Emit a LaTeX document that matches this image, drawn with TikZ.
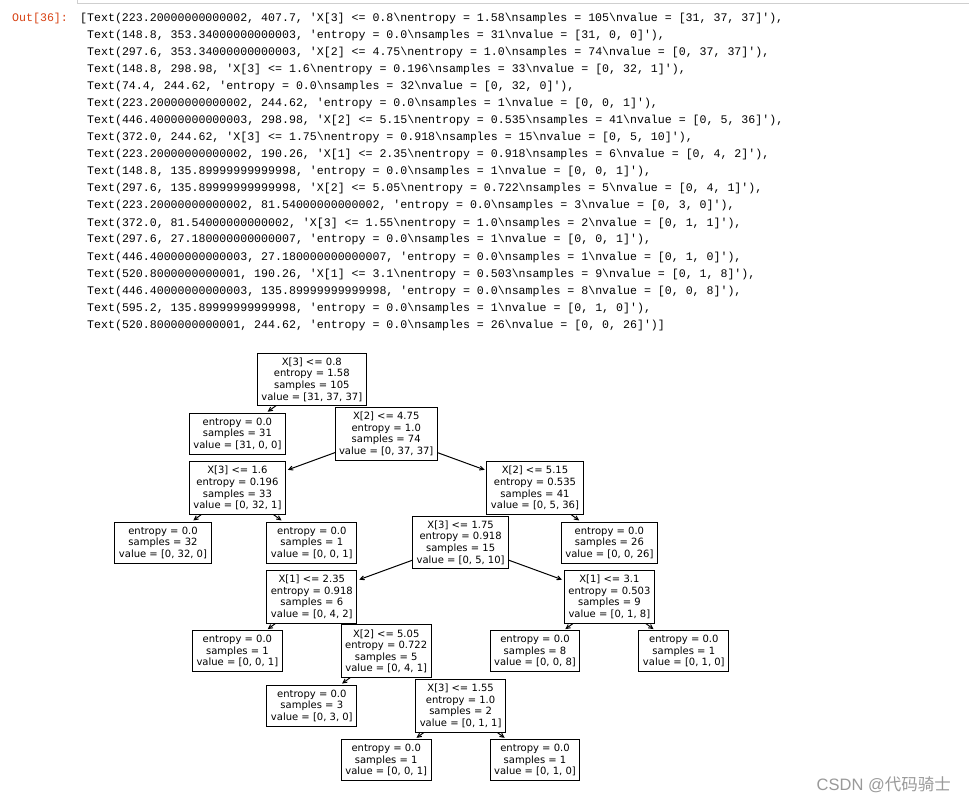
\documentclass[tikz,border=0pt]{standalone}
\usepackage{fontspec}
\usetikzlibrary{arrows.meta}
\newfontfamily\treefont{DejaVu Sans}
\newfontfamily\listfont{Liberation Mono}
\newfontfamily\wmfont{Liberation Sans}
\newfontfamily\wmcjk{Noto Sans CJK SC}
\definecolor{outred}{HTML}{D84315}
\definecolor{cellborder}{HTML}{CFCFCF}
\pgfdeclarelayer{bg}
\pgfsetlayers{bg,main}
\newcommand\bsn{\textbackslash n}
\newcommand\q{\textquotesingle}
\tikzset{
  tree/.style={draw=black, line width=1pt, fill=white, align=center, inner xsep=4pt, inner ysep=4.5pt, font=\treefont\fontsize{10pt}{11.6pt}\selectfont},
  arr/.style={line width=1pt, -{Straight Barb[length=4pt,width=4pt]}, shorten >=2pt},
  lst/.style={anchor=base west, inner sep=0pt, font=\listfont\fontsize{11.6pt}{14pt}\selectfont},
}
\begin{document}
\begin{tikzpicture}[x=1pt,y=-1pt]
\useasboundingbox (0,0) rectangle (969,805);
\begin{pgfonlayer}{bg}
\fill[white] (0,0) rectangle (969,805);
\end{pgfonlayer}
% cell border at top
\draw[cellborder, line width=1pt] (77,0) -- (77,3.5) -- (969,3.5);
% output listing
\node[lst, text=outred] (out) at (12,22) {Out[36]:};
\node[lst] (t1) at (80,22) {[Text(223.20000000000002, 407.7, \q X[3] <= 0.8\bsn entropy = 1.58\bsn samples = 105\bsn value = [31, 37, 37]\q),};
\node[lst] (t2) at (87,39) {Text(148.8, 353.34000000000003, \q entropy = 0.0\bsn samples = 31\bsn value = [31, 0, 0]\q),};
\node[lst] (t3) at (87,56) {Text(297.6, 353.34000000000003, \q X[2] <= 4.75\bsn entropy = 1.0\bsn samples = 74\bsn value = [0, 37, 37]\q),};
\node[lst] (t4) at (87,73) {Text(148.8, 298.98, \q X[3] <= 1.6\bsn entropy = 0.196\bsn samples = 33\bsn value = [0, 32, 1]\q),};
\node[lst] (t5) at (87,90) {Text(74.4, 244.62, \q entropy = 0.0\bsn samples = 32\bsn value = [0, 32, 0]\q),};
\node[lst] (t6) at (87,107) {Text(223.20000000000002, 244.62, \q entropy = 0.0\bsn samples = 1\bsn value = [0, 0, 1]\q),};
\node[lst] (t7) at (87,124) {Text(446.40000000000003, 298.98, \q X[2] <= 5.15\bsn entropy = 0.535\bsn samples = 41\bsn value = [0, 5, 36]\q),};
\node[lst] (t8) at (87,141) {Text(372.0, 244.62, \q X[3] <= 1.75\bsn entropy = 0.918\bsn samples = 15\bsn value = [0, 5, 10]\q),};
\node[lst] (t9) at (87,158) {Text(223.20000000000002, 190.26, \q X[1] <= 2.35\bsn entropy = 0.918\bsn samples = 6\bsn value = [0, 4, 2]\q),};
\node[lst] (t10) at (87,175) {Text(148.8, 135.89999999999998, \q entropy = 0.0\bsn samples = 1\bsn value = [0, 0, 1]\q),};
\node[lst] (t11) at (87,192) {Text(297.6, 135.89999999999998, \q X[2] <= 5.05\bsn entropy = 0.722\bsn samples = 5\bsn value = [0, 4, 1]\q),};
\node[lst] (t12) at (87,209) {Text(223.20000000000002, 81.54000000000002, \q entropy = 0.0\bsn samples = 3\bsn value = [0, 3, 0]\q),};
\node[lst] (t13) at (87,226) {Text(372.0, 81.54000000000002, \q X[3] <= 1.55\bsn entropy = 1.0\bsn samples = 2\bsn value = [0, 1, 1]\q),};
\node[lst] (t14) at (87,243) {Text(297.6, 27.180000000000007, \q entropy = 0.0\bsn samples = 1\bsn value = [0, 0, 1]\q),};
\node[lst] (t15) at (87,260) {Text(446.40000000000003, 27.180000000000007, \q entropy = 0.0\bsn samples = 1\bsn value = [0, 1, 0]\q),};
\node[lst] (t16) at (87,277) {Text(520.8000000000001, 190.26, \q X[1] <= 3.1\bsn entropy = 0.503\bsn samples = 9\bsn value = [0, 1, 8]\q),};
\node[lst] (t17) at (87,294) {Text(446.40000000000003, 135.89999999999998, \q entropy = 0.0\bsn samples = 8\bsn value = [0, 0, 8]\q),};
\node[lst] (t18) at (87,311) {Text(595.2, 135.89999999999998, \q entropy = 0.0\bsn samples = 1\bsn value = [0, 1, 0]\q),};
\node[lst] (t19) at (87,328) {Text(520.8000000000001, 244.62, \q entropy = 0.0\bsn samples = 26\bsn value = [0, 0, 26]\q)]};
% tree nodes, deepest first so parents lie on top
\node[tree] (l001c) at (386.2,760.0) {entropy = 0.0\\samples = 1\\value = [0, 0, 1]};
\node[tree] (l010a) at (535.0,760.0) {entropy = 0.0\\samples = 1\\value = [0, 1, 0]};
\node[tree] (l030) at (311.8,705.7) {entropy = 0.0\\samples = 3\\value = [0, 3, 0]};
\node[tree] (n155) at (460.6,705.7) {X[3] <= 1.55\\entropy = 1.0\\samples = 2\\value = [0, 1, 1]};
\node[tree] (l001b) at (237.4,651.3) {entropy = 0.0\\samples = 1\\value = [0, 0, 1]};
\node[tree] (n505) at (386.2,651.3) {X[2] <= 5.05\\entropy = 0.722\\samples = 5\\value = [0, 4, 1]};
\node[tree] (l008) at (535.0,651.3) {entropy = 0.0\\samples = 8\\value = [0, 0, 8]};
\node[tree] (l010b) at (683.8,651.3) {entropy = 0.0\\samples = 1\\value = [0, 1, 0]};
\node[tree] (n235) at (311.8,596.9) {X[1] <= 2.35\\entropy = 0.918\\samples = 6\\value = [0, 4, 2]};
\node[tree] (n31) at (609.4,596.9) {X[1] <= 3.1\\entropy = 0.503\\samples = 9\\value = [0, 1, 8]};
\node[tree] (l32) at (163.0,542.6) {entropy = 0.0\\samples = 32\\value = [0, 32, 0]};
\node[tree] (l001a) at (311.8,542.6) {entropy = 0.0\\samples = 1\\value = [0, 0, 1]};
\node[tree] (n175) at (460.6,542.6) {X[3] <= 1.75\\entropy = 0.918\\samples = 15\\value = [0, 5, 10]};
\node[tree] (l026) at (609.4,542.6) {entropy = 0.0\\samples = 26\\value = [0, 0, 26]};
\node[tree] (n16) at (237.4,488.2) {X[3] <= 1.6\\entropy = 0.196\\samples = 33\\value = [0, 32, 1]};
\node[tree] (n515) at (535.0,488.2) {X[2] <= 5.15\\entropy = 0.535\\samples = 41\\value = [0, 5, 36]};
\node[tree] (l31) at (237.4,433.9) {entropy = 0.0\\samples = 31\\value = [31, 0, 0]};
\node[tree] (n474) at (386.2,433.9) {X[2] <= 4.75\\entropy = 1.0\\samples = 74\\value = [0, 37, 37]};
\node[tree] (root) at (311.8,379.5) {X[3] <= 0.8\\entropy = 1.58\\samples = 105\\value = [31, 37, 37]};
% connectors below the boxes
\begin{pgfonlayer}{bg}
\draw[arr] (root.center) -- (l31);
\draw[arr] (root.center) -- (n474);
\draw[arr] (n474.center) -- (n16);
\draw[arr] (n474.center) -- (n515);
\draw[arr] (n16.center) -- (l32);
\draw[arr] (n16.center) -- (l001a);
\draw[arr] (n515.center) -- (n175);
\draw[arr] (n515.center) -- (l026);
\draw[arr] (n175.center) -- (n235);
\draw[arr] (n175.center) -- (n31);
\draw[arr] (n235.center) -- (l001b);
\draw[arr] (n235.center) -- (n505);
\draw[arr] (n505.center) -- (l030);
\draw[arr] (n505.center) -- (n155);
\draw[arr] (n155.center) -- (l001c);
\draw[arr] (n155.center) -- (l010a);
\draw[arr] (n31.center) -- (l008);
\draw[arr] (n31.center) -- (l010b);
\end{pgfonlayer}
% watermark
\node[anchor=base east, inner sep=0pt, text=black!40, font=\fontsize{16.5pt}{18pt}\selectfont] (wm) at (951,790.5) {\wmfont CSDN @\wmcjk 代码骑士};
\end{tikzpicture}
\end{document}
